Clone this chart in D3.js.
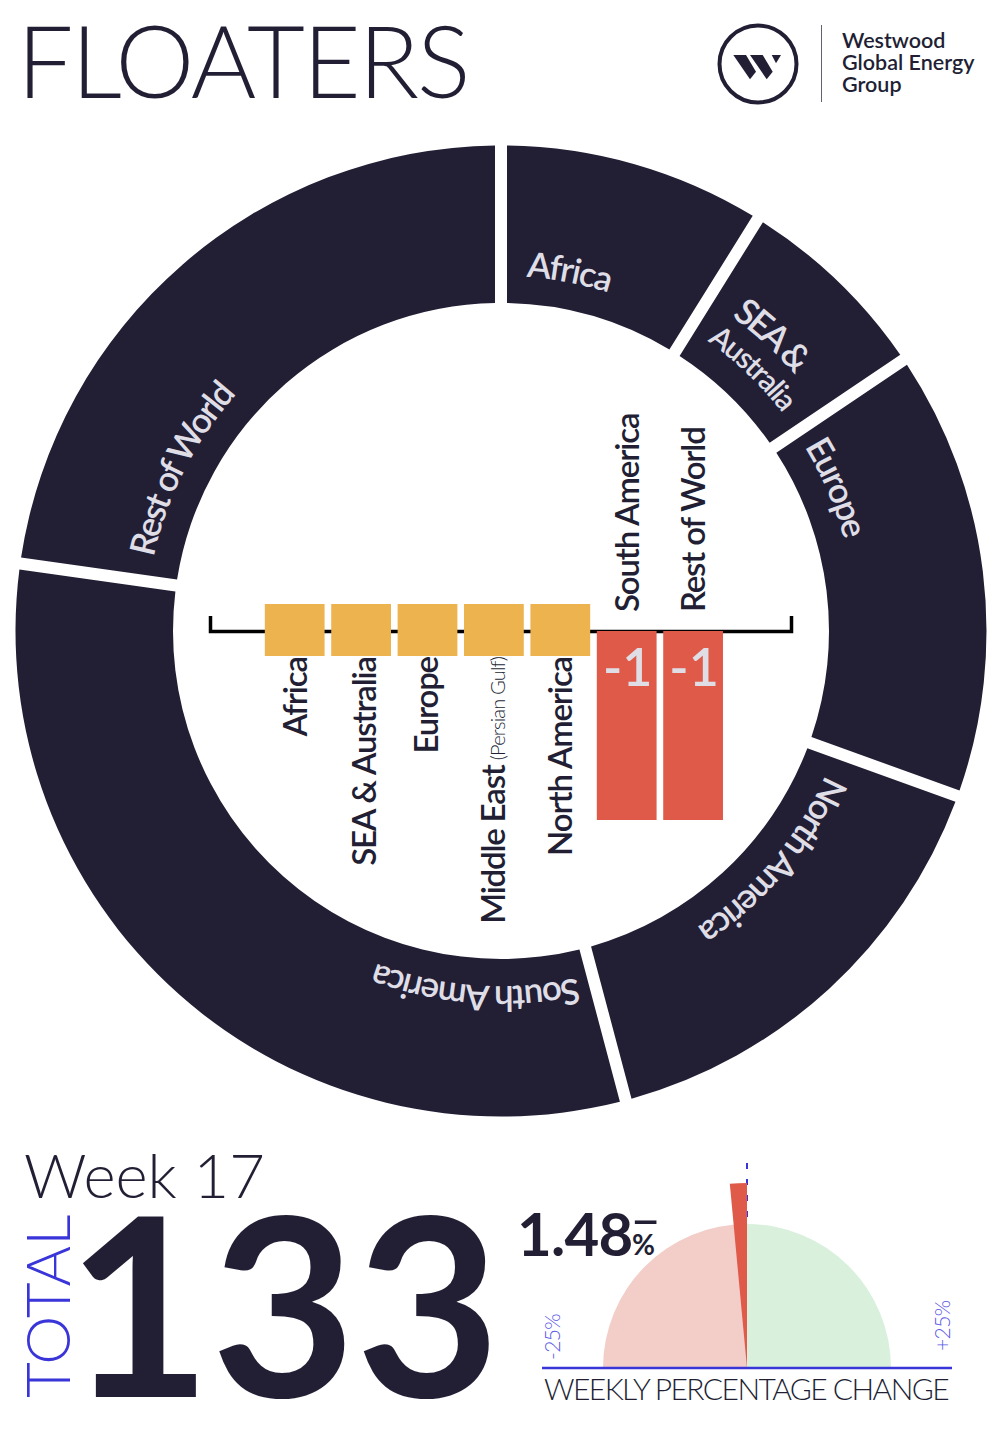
<!DOCTYPE html>
<html><head><meta charset="utf-8">
<script src="https://cdnjs.cloudflare.com/ajax/libs/d3/7.8.5/d3.min.js"></script>
<style>html,body{margin:0;padding:0;background:#fff}svg{display:block}text{font-family:Lato,sans-serif}</style>
</head><body><svg id="c" width="1001" height="1431"></svg>
<script>
const regions=["Africa","SEA & Australia","Europe","North America","South America","Rest of World"];
// slice sizes estimated from the drawn angles (they total 133)
const regionCounts=[11.8,8.9,19.9,20.4,41.7,30.3];
const barCategories=["Africa","SEA & Australia","Europe","Middle East","North America","South America","Rest of World"];
const barChanges=[0,0,0,0,0,-1,-1];
const gaugeValue=-1.48, gaugeMin=-25, gaugeMax=25;
const total=133, week="Week 17";

const dark="#221f35", light="#dfdde6", yellow="#ecb34f", red="#e05a49", blue="#3a35d8", blueLight="#5b57e6";
const svg=d3.select("#c");
const cx=501, cy=631, rO=485.5, rI=328;

// Donut
const pie=d3.pie().sort(null).value(d=>d);
const arcs=pie(regionCounts);
const arc=d3.arc().innerRadius(rI).outerRadius(rO).padAngle(12/400).padRadius(400);
const donut=svg.append("g").attr("transform",`translate(${cx},${cy})`);
donut.selectAll("path").data(arcs).join("path").attr("d",arc).attr("fill",dark);

const deg=Math.PI/180;
const labels=[
 {i:0,t:"Africa",r:355,off:4.1,fs:35,ls:-1.5},
 {i:1,t:"SEA &",r:390,off:4.3,fs:36,ls:-3},
 {i:1,t:"Australia",r:356,off:3.5,fs:30,ls:-1.5},
 {i:2,t:"Europe",r:355,off:2.7,fs:35,ls:-1.6},
 {i:3,t:"North America",r:355,off:4,fs:35,ls:-2},
 {i:4,t:"South America",r:355,off:2.5,fs:35,ls:-1.8},
 {i:5,t:"Rest of World",r:355,off:4,fs:35,ls:-2.2}];
const defs=svg.append("defs");
labels.forEach((l,k)=>{
  const a0=arcs[l.i].startAngle+l.off*deg-Math.PI/2;
  const p=d3.path(); p.arc(0,0,l.r,a0,a0+100*deg);
  defs.append("path").attr("id","lp"+k).attr("d",p.toString());
  donut.append("text").attr("fill",light).attr("font-size",l.fs).attr("font-weight",600).attr("letter-spacing",l.ls)
    .append("textPath").attr("href","#lp"+k).text(l.t);
});

// Bars
const x=d3.scaleBand().domain(barCategories).range([261.5,726.3]).paddingInner(0.1).paddingOuter(0.05);
const y=d3.scaleLinear().domain([-1,0]).range([820,631]);
const axisX=d3.scaleLinear().domain([0,1]).range([210,791]);
svg.append("g").attr("transform",`translate(0,${y(0)})`)
  .call(d3.axisBottom(axisX).tickValues([]).tickSizeOuter(-15))
  .select(".domain").attr("stroke","#000").attr("stroke-width",3.5).attr("fill","none");
const zeroUp=27, zeroDown=25;
svg.selectAll("rect.bar").data(barCategories.map((c,i)=>({c,v:barChanges[i]}))).join("rect").attr("class","bar")
  .attr("x",d=>x(d.c)).attr("width",x.bandwidth())
  .attr("y",d=>d.v<0?y(0):y(0)-zeroUp)
  .attr("height",d=>d.v<0?y(d.v)-y(0):zeroUp+zeroDown)
  .attr("fill",d=>d.v<0?red:yellow);
const labelShift=[12,15,10,11,12,12,12];
barCategories.forEach((c,i)=>{
  const v=barChanges[i], bx=x(c)+x.bandwidth()/2;
  const t=svg.append("text").attr("fill",dark).attr("font-size",33).attr("font-weight",600)
    .attr("letter-spacing",c==="Middle East"?-1.2:-1.15)
    .attr("transform",`translate(${bx+labelShift[i]},${v<0?y(0)-19:y(0)+26}) rotate(-90)`)
    .attr("text-anchor",v<0?"start":"end");
  t.append("tspan").text(c);
  if(c==="Middle East") t.append("tspan").attr("font-size",20).attr("font-weight",300).attr("letter-spacing",-0.8).attr("dx",5).text("(Persian Gulf)");
  if(v<0) svg.append("text").attr("x",bx+1).attr("y",y(0)+55).attr("text-anchor","middle").attr("fill",light)
    .attr("font-size",52).attr("font-weight",600).text(v);
});

// Header
svg.append("text").attr("x",17).attr("y",98).attr("font-size",100).attr("font-weight",300).attr("letter-spacing",-2.2).attr("fill",dark).text("FLOATERS");
const logo=svg.append("g").attr("transform","translate(758,64)");
logo.append("circle").attr("r",38.5).attr("fill","none").attr("stroke",dark).attr("stroke-width",4);
[[[-24.7,-9],[-12,-9],[-2,7.7],[-8,15.3]],[[-8,-9],[4.7,-9],[14.7,7.7],[8.7,15.3]],[[13.7,-9],[23,-9],[18,-0.7]]].forEach(p=>
  logo.append("polygon").attr("points",p.join(" ")).attr("fill",dark));
svg.append("line").attr("x1",821.5).attr("x2",821.5).attr("y1",25).attr("y2",102).attr("stroke",dark).attr("stroke-opacity",.7);
["Westwood","Global Energy","Group"].forEach((s,i)=>svg.append("text").attr("x",842).attr("y",48+i*22).attr("font-size",21.5).attr("font-weight",600).attr("fill",dark).text(s));

// Bottom-left
svg.append("text").attr("x",24).attr("y",1198).attr("font-size",61.5).attr("font-weight",300).attr("fill",dark).text(week);
svg.append("text").attr("transform","translate(70,1398) rotate(-90)").attr("font-size",62).attr("font-weight",300).attr("fill",blue).text("TOTAL");
svg.append("text").attr("x",66.5).attr("y",1397).attr("font-size",250).attr("font-weight",700).attr("letter-spacing",-.5).attr("fill",dark).text(total);

// Gauge
const gx=747, gy=1368, gR=144, needleR=185;
const ang=d3.scaleLinear().domain([gaugeMin,gaugeMax]).range([-Math.PI/2,Math.PI/2]);
const g=svg.append("g").attr("transform",`translate(${gx},${gy})`);
g.append("line").attr("x1",0).attr("x2",0).attr("y1",-205).attr("y2",0).attr("stroke",blue).attr("stroke-width",2).attr("stroke-dasharray","6 10");
const ga=d3.arc().innerRadius(0);
g.append("path").attr("d",ga({outerRadius:gR,startAngle:ang(gaugeMin),endAngle:ang(0)})).attr("fill","#f3cdc8");
g.append("path").attr("d",ga({outerRadius:gR,startAngle:ang(0),endAngle:ang(gaugeMax)})).attr("fill","#d9f0dd");
g.append("path").attr("d",ga({outerRadius:needleR,startAngle:ang(gaugeValue),endAngle:ang(0)})).attr("fill",red);
g.append("line").attr("x1",-205).attr("x2",205).attr("y1",0).attr("y2",0).attr("stroke",blue).attr("stroke-width",2.5);
svg.append("text").attr("transform","translate(560,1360) rotate(-90)").attr("font-size",21).attr("font-weight",300).attr("letter-spacing",-.6).attr("fill",blueLight).text("-25%");
svg.append("text").attr("transform","translate(950,1351) rotate(-90)").attr("font-size",21).attr("font-weight",300).attr("letter-spacing",-.6).attr("fill",blueLight).text("+25%");
svg.append("text").attr("x",544).attr("y",1400).attr("font-size",30).attr("font-weight",300).attr("letter-spacing",-1.56).attr("fill",dark).text("WEEKLY PERCENTAGE CHANGE");
svg.append("text").attr("x",517).attr("y",1256).attr("font-size",60).attr("font-weight",700).attr("letter-spacing",-.8).attr("fill",dark).text(Math.abs(gaugeValue).toFixed(2));
svg.append("text").attr("x",632).attr("y",1255).attr("font-size",28).attr("font-weight",700).attr("fill",dark).text("%");
svg.append("text").attr("x",630).attr("y",1238).attr("font-size",54).attr("font-weight",400).attr("fill",dark).text("–");
</script></body></html>
